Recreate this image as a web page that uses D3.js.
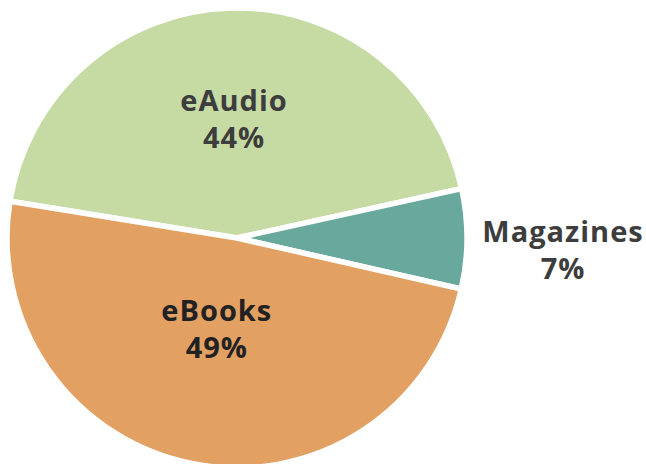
<!DOCTYPE html>
<html>
<head>
<meta charset="utf-8">
<script src="https://cdn.jsdelivr.net/npm/d3@7"></script>
<style>
  body { margin: 0; background: #fff; }
  #pie { width: 646px; height: 464px; }
  text { font-family: "Open Sans", sans-serif; font-weight: 700; }
</style>
</head>
<body>
<div id="pie"></div>
<script>
    const labels = ["eAudio", "Magazines", "eBooks"];
    const values = [44, 7, 49];
    const colors = ["#c5dba3", "#69a89c", "#e2a062"];
    const textColors = ["#3d3d3d", "#3d3d3d", "#222222"];

    const width = 646;
    const height = 464;
    const radius = 230;
    const cx = 237;
    const cy = 238;

    const svg = d3.select("#pie").append("svg")
                  .attr("width", width)
                  .attr("height", height);

    const g = svg.append("g")
        .attr("transform", "translate(" + cx + "," + cy + ")");

    const pie = d3.pie()
        .sort(null)
        .startAngle(-80.8 * Math.PI / 180)
        .endAngle((360 - 80.8) * Math.PI / 180);

    const arcs = pie(values);

    const arc = d3.arc()
        .innerRadius(0)
        .outerRadius(radius);

    // label arcs: inside for big slices, outside for the small one
    const innerLabel = d3.arc().innerRadius(106).outerRadius(106);
    const outerLabel = d3.arc().innerRadius(326).outerRadius(326);
    const isSmall = d => (d.endAngle - d.startAngle) < 0.6;

    g.selectAll("path")
        .data(arcs)
        .enter().append("path")
        .attr("d", arc)
        .style("fill", (d, i) => colors[i])
        .style("stroke", "#fff")
        .style("stroke-width", 5.5)
        .style("stroke-linejoin", "miter");

    const lbl = g.selectAll(".lbl")
        .data(arcs)
        .enter().append("text")
        .attr("class", "lbl")
        .attr("transform", function(d) {
            const c = isSmall(d) ? outerLabel.centroid(d) : innerLabel.centroid(d);
            return "translate(" + c[0] + "," + c[1] + ")";
        })
        .style("text-anchor", "middle")
        .style("font-size", "29px")
        .style("letter-spacing", "1px")
        .style("fill", (d, i) => textColors[i]);

    lbl.append("tspan")
        .attr("x", 0)
        .attr("y", d => isSmall(d) ? 3 : -21)
        .text((d, i) => labels[i]);

    lbl.append("tspan")
        .attr("x", 0)
        .attr("y", d => isSmall(d) ? 40 : 16)
        .text(d => d.value + "%");
</script>
</body>
</html>
